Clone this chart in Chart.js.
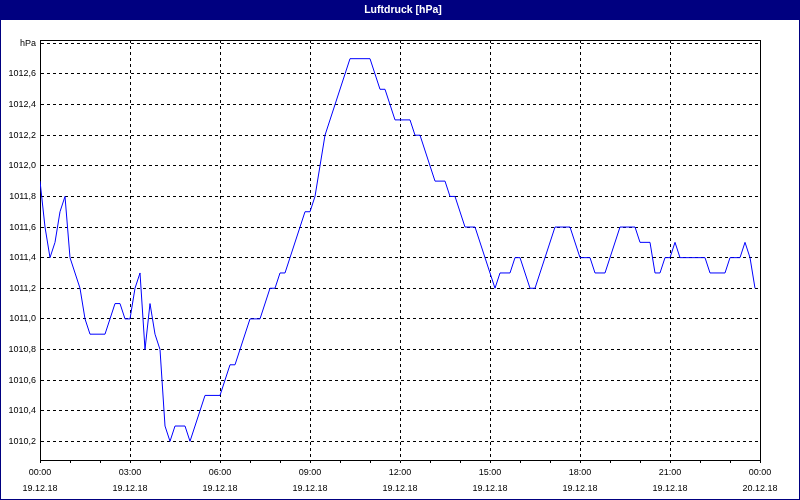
<!DOCTYPE html>
<html>
<head>
<meta charset="utf-8">
<script src="https://cdn.jsdelivr.net/npm/chart.js@4"></script>
<style>
    body { margin: 0; background: #ffffff; }
    canvas { display: block; }
</style>
</head>
<body>
<canvas id="chart" width="800" height="500"></canvas>
<script>
const chartTitle = 'Luftdruck [hPa]'
const unitLabel = 'hPa'

// Messzeitpunkte (nur Knickpunkte der Kurve) und Luftdruck in hPa
const times = [
    '00:00', '00:10', '00:20', '00:30', '00:40', '00:50', '01:00', '01:20', '01:30', '01:40',
    '02:10', '02:30', '02:40', '02:50', '03:00', '03:10', '03:20', '03:30', '03:40', '03:50',
    '04:00', '04:10', '04:20', '04:30', '04:50', '05:00', '05:30', '06:00', '06:20', '06:30',
    '07:00', '07:20', '07:40', '07:50', '08:00', '08:10', '08:50', '09:00', '09:10', '09:30',
    '09:50', '10:20', '11:00', '11:20', '11:30', '11:50', '12:20', '12:30', '12:40', '13:10',
    '13:30', '13:40', '13:50', '14:10', '14:30', '15:10', '15:20', '15:40', '15:50', '16:00',
    '16:20', '16:30', '17:10', '17:40', '18:00', '18:20', '18:30', '18:50', '19:20', '19:50',
    '20:00', '20:20', '20:30', '20:40', '20:50', '21:00', '21:10', '21:20', '22:10', '22:20',
    '22:50', '23:00', '23:20', '23:30', '23:40', '23:50'
]
const pressure = [
    1011.9, 1011.6, 1011.4, 1011.5, 1011.7, 1011.8, 1011.4, 1011.2, 1011.0, 1010.9,
    1010.9, 1011.1, 1011.1, 1011.0, 1011.0, 1011.2, 1011.3, 1010.8, 1011.1, 1010.9,
    1010.8, 1010.3, 1010.2, 1010.3, 1010.3, 1010.2, 1010.5, 1010.5, 1010.7, 1010.7,
    1011.0, 1011.0, 1011.2, 1011.2, 1011.3, 1011.3, 1011.7, 1011.7, 1011.8, 1012.2,
    1012.4, 1012.7, 1012.7, 1012.5, 1012.5, 1012.3, 1012.3, 1012.2, 1012.2, 1011.9,
    1011.9, 1011.8, 1011.8, 1011.6, 1011.6, 1011.2, 1011.3, 1011.3, 1011.4, 1011.4,
    1011.2, 1011.2, 1011.6, 1011.6, 1011.4, 1011.4, 1011.3, 1011.3, 1011.6, 1011.6,
    1011.5, 1011.5, 1011.3, 1011.3, 1011.4, 1011.4, 1011.5, 1011.4, 1011.4, 1011.3,
    1011.3, 1011.4, 1011.4, 1011.5, 1011.4, 1011.2
]

// Achsenbeschriftung
const yTicks = [1010.2, 1010.4, 1010.6, 1010.8, 1011.0, 1011.2, 1011.4, 1011.6, 1011.8, 1012.0, 1012.2, 1012.4, 1012.6, 1012.8]
const xLabelTimes = ['00:00', '03:00', '06:00', '09:00', '12:00', '15:00', '18:00', '21:00', '00:00']
const xLabelDates = ['19.12.18', '19.12.18', '19.12.18', '19.12.18', '19.12.18', '19.12.18', '19.12.18', '19.12.18', '20.12.18']

const toHours = (t) => {
    const [h, m] = t.split(':')
    return Number(h) + Number(m) / 60
}

let points = []
for(let i = 0; i < times.length; i++){
    points.push({x: toHours(times[i]), y: pressure[i]})
}

const fontFamily = '"Liberation Sans", Arial, sans-serif'
const navy = '#000080'

// Titelleiste und Fensterrahmen
const framePlugin = {
    id: 'frame',
    afterDraw: (chart) => {
        const ctx = chart.ctx
        const area = chart.chartArea
        ctx.save()
        ctx.fillStyle = navy
        ctx.fillRect(0, 0, chart.width, 20)
        ctx.strokeStyle = navy
        ctx.lineWidth = 1
        ctx.strokeRect(0.5, 0.5, chart.width - 1, chart.height - 1)
        ctx.fillStyle = '#ffffff'
        ctx.font = 'bold 10.5px ' + fontFamily
        ctx.textAlign = 'center'
        ctx.textBaseline = 'alphabetic'
        ctx.fillText(chartTitle, chart.width / 2 + 3, 13)
        // Rahmen um den Plotbereich
        ctx.strokeStyle = '#000000'
        ctx.beginPath()
        ctx.moveTo(Math.round(area.left) + 0.5, Math.round(area.top) + 0.5)
        ctx.lineTo(Math.round(area.right) + 0.5, Math.round(area.top) + 0.5)
        ctx.lineTo(Math.round(area.right) + 0.5, Math.round(area.bottom) + 0.5)
        ctx.stroke()
        ctx.restore()
    }
}

const context = document.getElementById('chart').getContext('2d')
const chart = new Chart(context, {
    type: 'line',
    data: {
        datasets: [
            {
                label: chartTitle,
                data: points,
                borderColor: '#0000ff',
                backgroundColor: '#0000ff',
                borderWidth: 1,
                pointRadius: 0,
                tension: 0,
                fill: false
            }
        ]
    },
    options: {
        responsive: false,
        animation: false,
        layout: {
            padding: {top: 40, right: 40, left: 0, bottom: 0}
        },
        scales: {
            x: {
                type: 'linear',
                min: 0,
                max: 24,
                afterFit: (scale) => { scale.height = 40 },
                ticks: {
                    stepSize: 1,
                    autoSkip: false,
                    maxRotation: 0,
                    padding: 2,
                    color: '#000000',
                    font: {family: fontFamily, size: 9, lineHeight: '16px'},
                    callback: (value) => {
                        if(value % 3 !== 0) return ''
                        return [xLabelTimes[value / 3], xLabelDates[value / 3]]
                    }
                },
                grid: {
                    color: (c) => (c.tick && c.tick.value % 3 === 0) ? '#000000' : 'rgba(0,0,0,0)',
                    tickColor: '#000000',
                    tickLength: 3,
                    lineWidth: 1
                },
                border: {
                    color: '#000000',
                    width: 1,
                    dash: [3, 3]
                }
            },
            y: {
                type: 'linear',
                min: 1010.078,
                max: 1012.822,
                afterFit: (scale) => { scale.width = 40 },
                afterBuildTicks: (scale) => {
                    scale.ticks = yTicks.map(v => ({value: v}))
                },
                ticks: {
                    autoSkip: false,
                    padding: 4,
                    color: '#000000',
                    font: {family: fontFamily, size: 9},
                    callback: (value) => {
                        if(Math.abs(value - 1012.8) < 0.001) return unitLabel
                        return value.toFixed(1).replace('.', ',')
                    }
                },
                grid: {
                    color: '#000000',
                    drawTicks: false,
                    lineWidth: 1
                },
                border: {
                    color: '#000000',
                    width: 1,
                    dash: [3, 3]
                }
            }
        },
        plugins: {
            legend: {display: false},
            title: {display: false},
            tooltip: {enabled: false}
        }
    },
    plugins: [framePlugin]
})
</script>
</body>
</html>
